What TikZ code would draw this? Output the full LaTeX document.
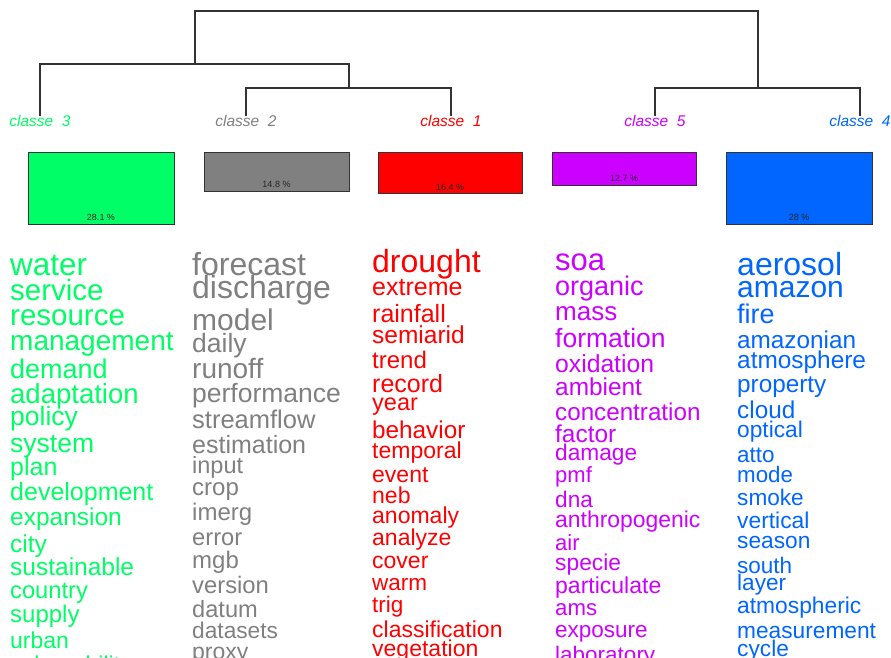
\documentclass[tikz,border=0pt]{standalone}
\usepackage{fontspec}
\setmainfont{Liberation Sans}
\definecolor{cthree}{HTML}{00FF66}
\definecolor{ctwo}{HTML}{808080}
\definecolor{cone}{HTML}{FF0000}
\definecolor{cfive}{HTML}{CC00FF}
\definecolor{cfour}{HTML}{0066FF}
\definecolor{lin}{HTML}{333333}
\tikzset{
  fs/.style={font=\fontsize{#1}{#1}\selectfont},
  word/.style={anchor=base west, inner sep=0pt},
  clab/.style={anchor=base, inner sep=0pt, font=\fontsize{15.5}{15.5}\selectfont\itshape},
  bar/.style={draw=lin, line width=1pt, anchor=north west, inner sep=0pt},
  pct/.style={anchor=base, inner sep=0pt, text=black!85, font=\fontsize{9}{9}\selectfont},
  tree/.style={draw=lin, line width=1.1pt}
}
\begin{document}
\begin{tikzpicture}[x=1pt,y=-1pt]
\clip (0,0) rectangle (891,658);
\fill[white] (0,0) rectangle (891,658);

% class labels
\node[clab, text=cthree] (c3) at (40,127) {classe\ \ 3};
\node[clab, text=ctwo] (c2) at (246,127) {classe\ \ 2};
\node[clab, text=cone] (c1) at (451,127) {classe\ \ 1};
\node[clab, text=cfive] (c5) at (655,127) {classe\ \ 5};
\node[clab, text=cfour] (c4) at (860,127) {classe\ \ 4};

% dendrogram
\coordinate (n21) at (349,88);
\coordinate (n3) at (195,64);
\coordinate (n54) at (758,88);
\coordinate (root) at (476,11);
\draw[tree] (c2.north) |- (n21) -| (c1.north);
\draw[tree] (c3.north) |- (n3) -| (n21);
\draw[tree] (c5.north) |- (n54) -| (c4.north);
\draw[tree] (n3) |- (root) -| (n54);

% bars
\node[bar, fill=cthree, minimum width=146, minimum height=72] (b3) at (28,152) {};
\node[bar, fill=ctwo, minimum width=145, minimum height=39] (b2) at (204,152) {};
\node[bar, fill=cone, minimum width=144, minimum height=41] (b1) at (378,152) {};
\node[bar, fill=cfive, minimum width=144, minimum height=33] (b5) at (552,152) {};
\node[bar, fill=cfour, minimum width=146, minimum height=72] (b4) at (726,152) {};
\node[pct] (p3) at (101,220.5) {28.1 \%};
\node[pct] (p2) at (276.5,187) {14.8 \%};
\node[pct] (p1) at (450,190) {16.4 \%};
\node[pct] (p5) at (624,181.5) {12.7 \%};
\node[pct] (p4) at (799,220.5) {28 \%};

% class 3 words
\foreach \w/\s/\y in {water/31.5/275, service/29.5/300, resource/29.5/325, management/28/350,
  demand/27/378, adaptation/27.5/403, policy/26.5/425, system/26.5/452, plan/25/475,
  development/25/500, expansion/24.5/525, city/24.5/552, sustainable/24.5/575,
  country/23.7/598, supply/24/622, urban/23/648, vulnerability/23/672}
  \node[word, fs=\s, text=cthree] (g-\w) at (10,\y) {\w};

% class 2 words
\foreach \w/\s/\y in {forecast/32/275, discharge/32/298, model/30/330, daily/26.5/352,
  runoff/28/378, performance/26.5/402, streamflow/25.5/428, estimation/25/453,
  input/23.5/473, crop/24/495, imerg/24/520, error/23.7/545, mgb/24/568,
  version/23.8/593, datum/23.6/617, datasets/22.7/638, proxy/23/659}
  \node[word, fs=\s, text=ctwo] (k-\w) at (192,\y) {\w};

% class 1 words
\foreach \w/\s/\y in {drought/32/272, extreme/25/295, rainfall/25/322, semiarid/24.5/343,
  trend/24/368, record/25/392, year/23.5/410, behavior/24.3/438, temporal/23/458,
  event/23/482, neb/23/503, anomaly/23/523, analyze/23/545, cover/23/568,
  warm/22.5/590, trig/22.5/612, classification/23/637, vegetation/23/656}
  \node[word, fs=\s, text=cone] (r-\w) at (372,\y) {\w};

% class 5 words
\foreach \w/\s/\y in {soa/31/270, organic/27/295, mass/26/320, formation/26.5/347,
  oxidation/24.7/372, ambient/24.4/395, concentration/24.2/420, factor/24.4/442,
  damage/22.7/460, pmf/22/482, dna/22.6/507, anthropogenic/22.9/527, air/22/550,
  specie/22.8/570, particulate/23/593, ams/22.2/615, exposure/22.5/637, laboratory/22.5/662}
  \node[word, fs=\s, text=cfive] (m-\w) at (555,\y) {\w};

% class 4 words
\foreach \w/\s/\y in {aerosol/32/275, amazon/30/297, fire/27/323, amazonian/24.3/348,
  atmosphere/24.4/368, property/24.3/392, cloud/24.3/418, optical/22.7/437,
  atto/22.4/462, mode/22.3/482, smoke/22.6/505, vertical/22.8/528, season/22.7/548,
  south/22.5/573, layer/22.6/590, atmospheric/22.8/613, measurement/22.7/638, cycle/22.7/656}
  \node[word, fs=\s, text=cfour] (b-\w) at (737,\y) {\w};
\end{tikzpicture}
\end{document}
